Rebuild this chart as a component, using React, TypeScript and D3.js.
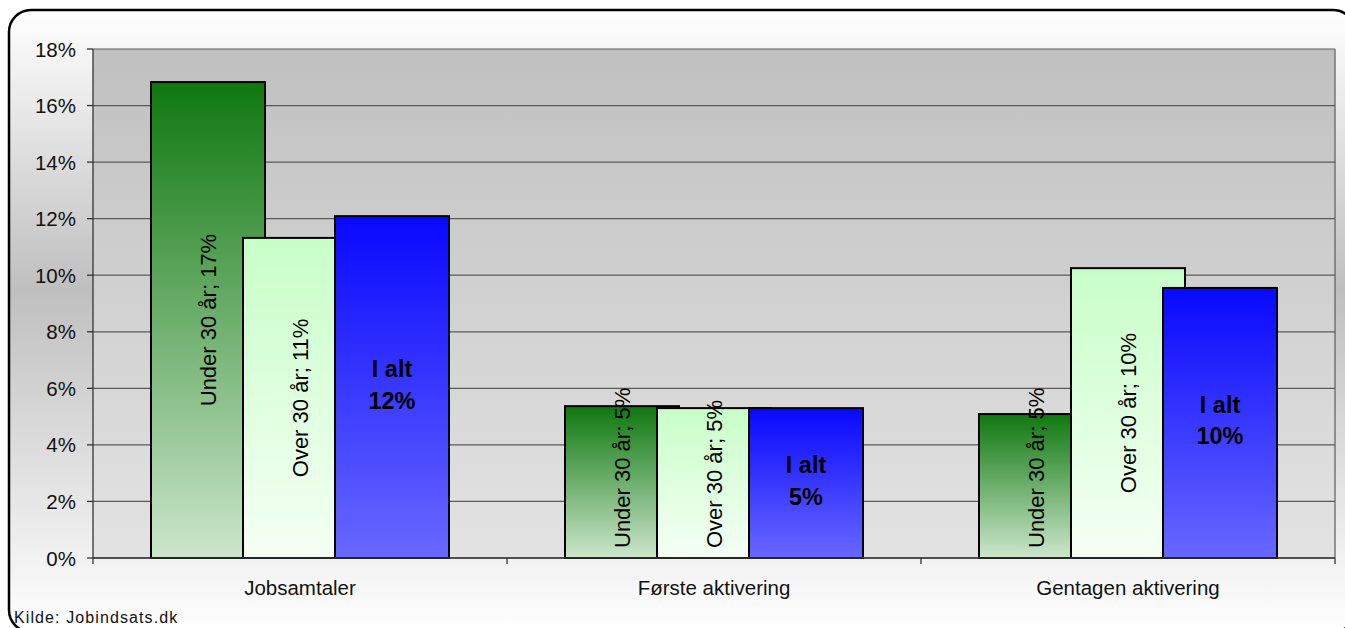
import React from 'react';
import * as d3 from 'd3';

// ---- data ----
const categories = ['Jobsamtaler', 'Første aktivering', 'Gentagen aktivering'];
const seriesNames = ['Under 30 år', 'Over 30 år', 'I alt'];
const under30 = [0.1683, 0.0537, 0.0509];
const over30 = [0.1132, 0.053, 0.1025];
const iAlt = [0.1209, 0.053, 0.0955];
const yTicks = [0, 0.02, 0.04, 0.06, 0.08, 0.1, 0.12, 0.14, 0.16, 0.18];
const sourceText = 'Kilde: Jobindsats.dk';

// ---- layout ----
const W = 1345;
const H = 628;
const plot = { left: 93, right: 1335, top: 49, bottom: 558 };
const FONT = '"Liberation Sans", Arial, Helvetica, sans-serif';

const x = d3.scaleBand<string>().domain(categories).range([plot.left, plot.right]).padding(0);
const y = d3.scaleLinear().domain([0, 0.18]).range([plot.bottom, plot.top]);
const pct = d3.format('.0%');

const seriesValues = [under30, over30, iAlt];
const fills = ['url(#gUnder)', 'url(#gOver)', 'url(#gAlt)'];

let ctx: CanvasRenderingContext2D | null = null;
function measure(text: string, font: string): number {
  if (!ctx) ctx = document.createElement('canvas').getContext('2d');
  if (!ctx) return text.length * 10;
  ctx.font = font;
  return ctx.measureText(text).width;
}

export default function App() {
  const bw = x.bandwidth();
  const step = bw * (92 / 414);
  const barW = bw * (114 / 414);
  const rotFont = 22;

  const bars: React.ReactNode[] = [];
  const labels: React.ReactNode[] = [];

  categories.forEach((cat, ci) => {
    const cx = (x(cat) as number) + bw / 2;
    seriesValues.forEach((vals, si) => {
      const v = vals[ci];
      const bc = cx + (si - 1) * step;
      const top = y(v);
      const bottom = y(0);
      bars.push(
        <rect
          key={`b-${ci}-${si}`}
          x={bc - barW / 2}
          y={top}
          width={barW}
          height={bottom - top}
          fill={fills[si]}
          stroke="#000"
          strokeWidth={2}
        />
      );
      const mid = (top + bottom) / 2;
      if (si < 2) {
        const text = `${seriesNames[si]}; ${pct(v)}`;
        const len = measure(text, `${rotFont}px ${FONT}`);
        const fits = len + 20 <= bottom - top;
        const ly = fits ? mid : bottom - 10;
        labels.push(
          <text
            key={`l-${ci}-${si}`}
            transform={`translate(${bc},${ly}) rotate(-90)`}
            textAnchor={fits ? 'middle' : 'start'}
            dominantBaseline="central"
            fontSize={rotFont}
            fontFamily={FONT}
            fill="#000"
          >
            {text}
          </text>
        );
      } else {
        labels.push(
          <g key={`l-${ci}-${si}`} fontFamily={FONT} fontSize={23.5} fontWeight="bold" fill="#000" textAnchor="middle">
            <text x={bc} y={mid - 10}>{seriesNames[si]}</text>
            <text x={bc} y={mid + 21.5}>{pct(v)}</text>
          </g>
        );
      }
    });
  });

  return (
    <svg
      width={W}
      height={H}
      viewBox={`0 0 ${W} ${H}`}
      style={{ position: 'absolute', left: 0, top: 0, display: 'block' }}
    >
      <defs>
        <linearGradient id="gBg" x1="0" y1="0" x2="0" y2="1">
          <stop offset="0" stopColor="#ffffff" />
          <stop offset="0.45" stopColor="#bfbfbf" />
          <stop offset="1" stopColor="#ffffff" />
        </linearGradient>
        <linearGradient id="gPlot" x1="0" y1="0" x2="0" y2="1">
          <stop offset="0" stopColor="#c0c0c0" />
          <stop offset="1" stopColor="#e3e3e3" />
        </linearGradient>
        <linearGradient id="gUnder" x1="0" y1="0" x2="0" y2="1">
          <stop offset="0" stopColor="#0f780f" />
          <stop offset="1" stopColor="#cce6cc" />
        </linearGradient>
        <linearGradient id="gOver" x1="0" y1="0" x2="0" y2="1">
          <stop offset="0" stopColor="#c8fec8" />
          <stop offset="1" stopColor="#f5fff5" />
        </linearGradient>
        <linearGradient id="gAlt" x1="0" y1="0" x2="0" y2="1">
          <stop offset="0" stopColor="#0808ff" />
          <stop offset="1" stopColor="#6868ff" />
        </linearGradient>
      </defs>

      <rect x={0} y={0} width={W} height={H} fill="#ffffff" />
      <rect x={9} y={10} width={1346} height={622} rx={22} ry={22} fill="url(#gBg)" stroke="#000" strokeWidth={2.5} />

      {/* plot area */}
      <rect
        x={plot.left}
        y={plot.top}
        width={plot.right - plot.left}
        height={plot.bottom - plot.top}
        fill="url(#gPlot)"
      />
      {yTicks.map((t) => (
        <line key={`g-${t}`} x1={plot.left} x2={plot.right} y1={y(t)} y2={y(t)} stroke="#5a5a5a" strokeWidth={1.2} />
      ))}
      <line x1={plot.right} x2={plot.right} y1={plot.top} y2={plot.bottom} stroke="#5a5a5a" strokeWidth={1.2} />

      {bars}

      {/* axes */}
      <line x1={plot.left} x2={plot.left} y1={plot.top} y2={plot.bottom} stroke="#333" strokeWidth={1.3} />
      <line x1={plot.left} x2={plot.right} y1={plot.bottom} y2={plot.bottom} stroke="#333" strokeWidth={1.3} />
      {yTicks.map((t) => (
        <g key={`yt-${t}`}>
          <line x1={plot.left - 6} x2={plot.left} y1={y(t)} y2={y(t)} stroke="#333" strokeWidth={1.3} />
          <text
            x={76}
            y={y(t)}
            textAnchor="end"
            dominantBaseline="central"
            fontSize={20.5}
            fontFamily={FONT}
            fill="#111"
          >
            {pct(t)}
          </text>
        </g>
      ))}
      {[...categories.map((c) => x(c) as number), plot.right].map((bx, i) => (
        <line key={`xt-${i}`} x1={bx} x2={bx} y1={plot.bottom} y2={plot.bottom + 6} stroke="#333" strokeWidth={1.3} />
      ))}
      {categories.map((c) => (
        <text
          key={`xl-${c}`}
          x={(x(c) as number) + bw / 2}
          y={595}
          textAnchor="middle"
          fontSize={20.5}
          fontFamily={FONT}
          fill="#111"
        >
          {c}
        </text>
      ))}

      {labels}

      <text x={14} y={623} fontSize={16} fontFamily={FONT} letterSpacing={1.1} fill="#111">
        {sourceText}
      </text>
    </svg>
  );
}
